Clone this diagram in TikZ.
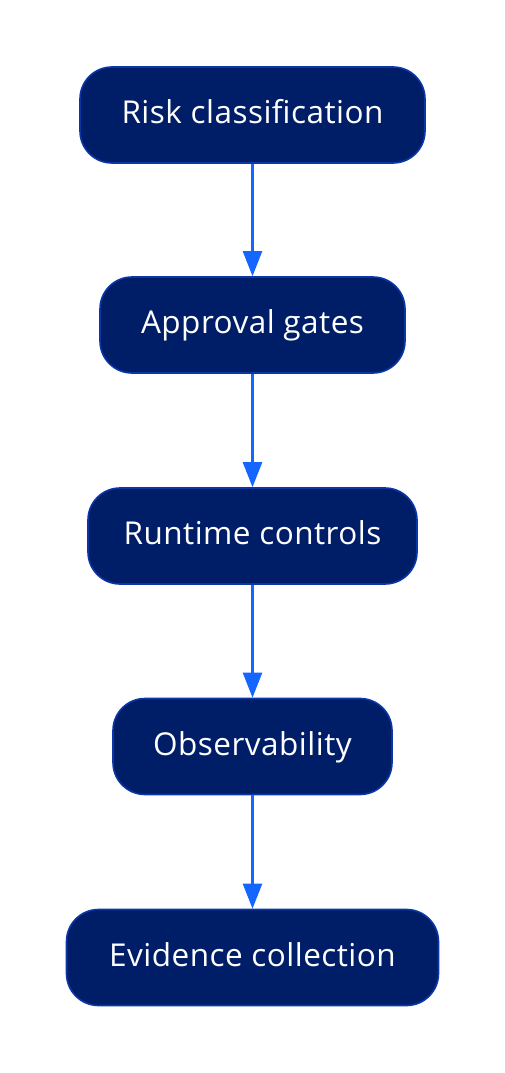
\documentclass[tikz,border=0pt]{standalone}
\usepackage{fontspec}
\setmainfont{Open Sans}[LetterSpace=1.5]
\usetikzlibrary{arrows.meta}
\definecolor{boxfill}{HTML}{001E68}
\definecolor{boxline}{HTML}{0A36A8}
\definecolor{arrowc}{HTML}{1466FF}
\begin{document}
\begin{tikzpicture}[x=1pt,y=-1pt,
  stage/.style={draw=boxline, line width=1.6pt, fill=boxfill, rounded corners=32pt,
    text=white, font=\fontsize{31.5}{33}\selectfont, inner sep=0pt,
    minimum height=96pt, text height=23pt, text depth=6pt},
  conn/.style={draw=arrowc, line width=2.4pt, -{Triangle[length=25pt,width=19pt]}}]
\path[use as bounding box] (0,0) rectangle (505,1073);
\node[stage, minimum width=345pt] (a) at (252.5,115) {Risk classification};
\node[stage, minimum width=305pt] (b) at (252.5,325) {Approval gates};
\node[stage, minimum width=329pt] (c) at (252.5,536) {Runtime controls};
\node[stage, minimum width=279pt] (d) at (252.5,746.5) {Observability};
\node[stage, minimum width=372pt] (e) at (252.5,957.5) {Evidence collection};
\draw[conn] (a.south) -- (b.north);
\draw[conn] (b.south) -- (c.north);
\draw[conn] (c.south) -- (d.north);
\draw[conn] (d.south) -- (e.north);
\end{tikzpicture}
\end{document}
